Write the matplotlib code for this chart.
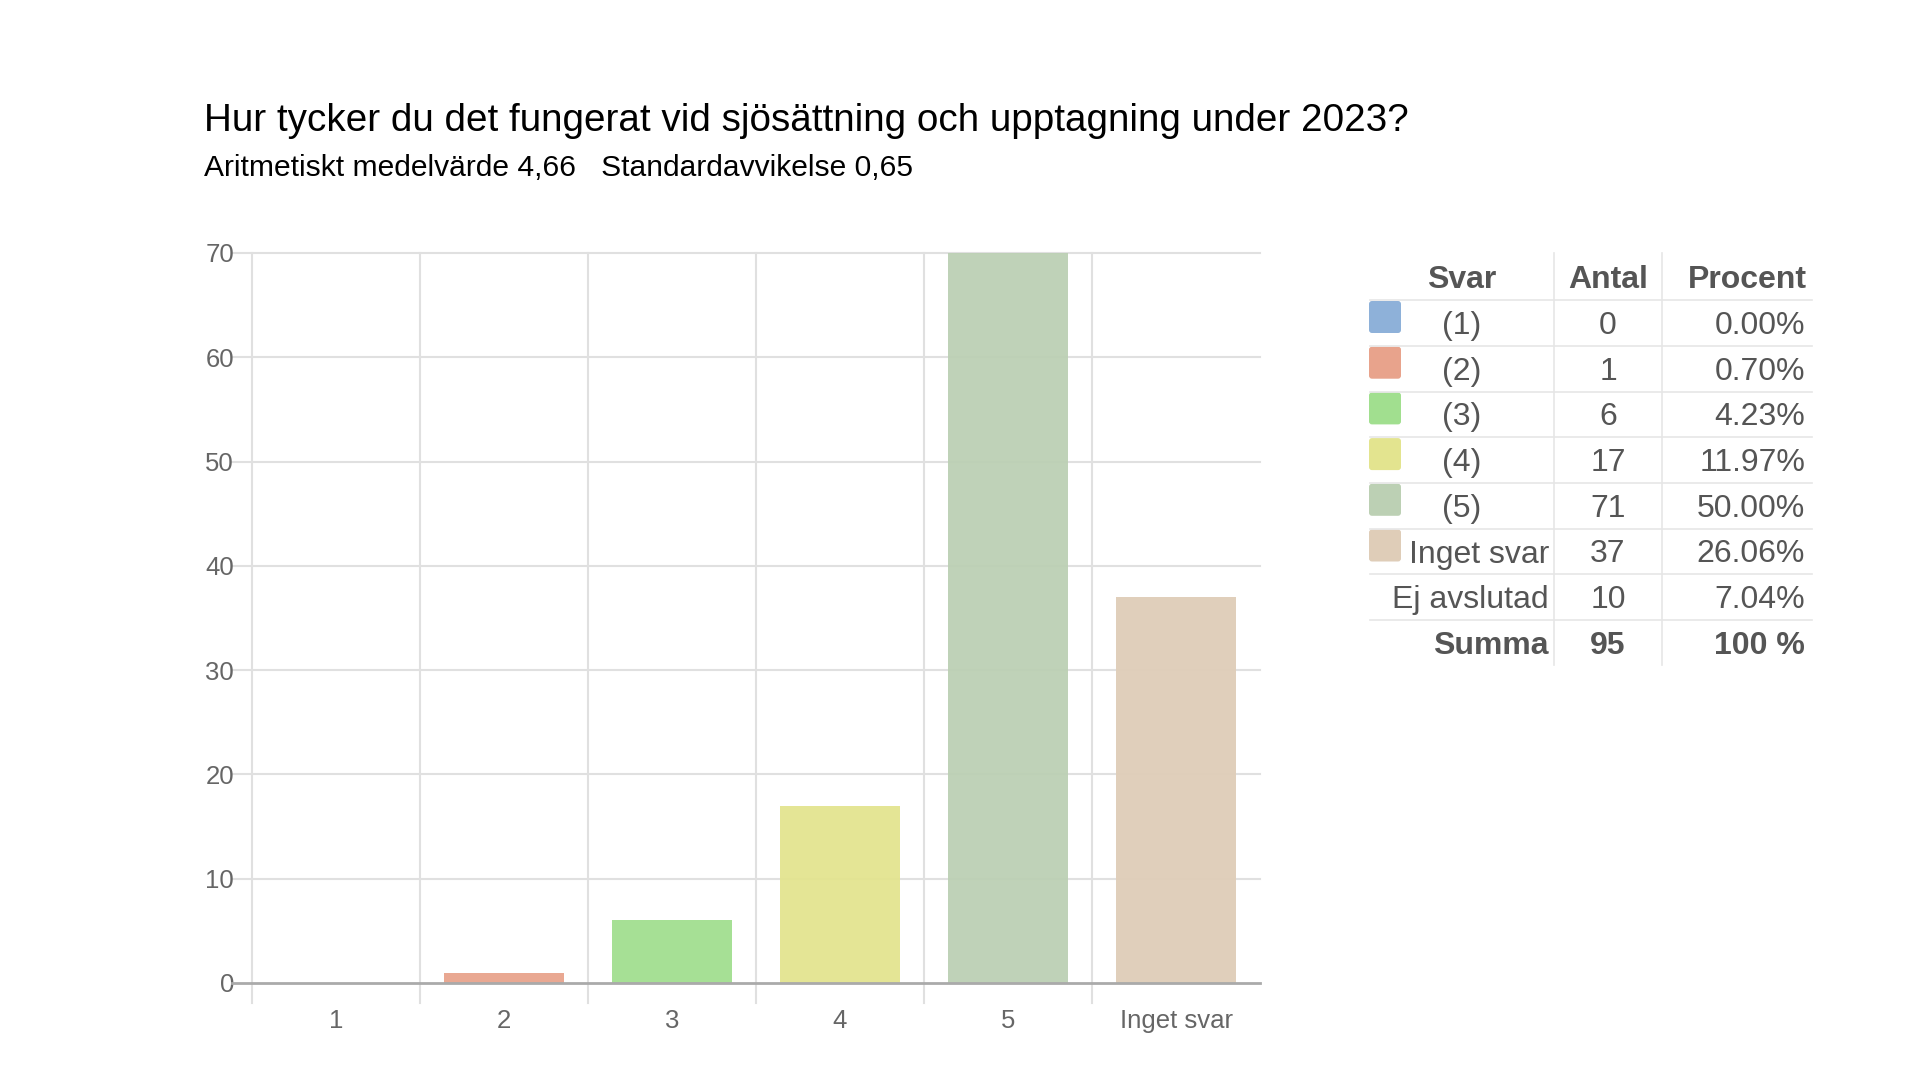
import matplotlib.pyplot as plt
from matplotlib.patches import FancyBboxPatch
from matplotlib.lines import Line2D

plt.rcParams["font.family"] = ["Liberation Sans", "DejaVu Sans"]

# chart data
categories = ["1", "2", "3", "4", "5", "Inget svar"]
counts = [0, 1, 6, 17, 71, 37]
bar_colors = ["#8eb1d9", "#e8a38c", "#a1df8f", "#e3e48f", "#bcd0b4", "#dfcdb8"]

# summary table data
svar = ["(1)", "(2)", "(3)", "(4)", "(5)", "Inget svar", "Ej avslutad"]
antal = [0, 1, 6, 17, 71, 37, 10]
procent = ["0.00%", "0.70%", "4.23%", "11.97%", "50.00%", "26.06%", "7.04%"]
summa_antal = 95
summa_procent = "100 %"

title = "Hur tycker du det fungerat vid sjösättning och upptagning under 2023?"
subtitle = "Aritmetiskt medelvärde 4,66   Standardavvikelse 0,65"

W, H = 1920, 1080
fig = plt.figure(figsize=(W / 100, H / 100), dpi=100)

# bar chart
ax = fig.add_axes([252 / W, 1 - 983 / H, 1008 / W, 730 / H])
x = list(range(len(categories)))
ax.bar(x, counts, width=0.72, color=bar_colors, alpha=0.95, zorder=2)
ax.set_xlim(-0.5, 5.5)
ax.set_ylim(0, 70)
ax.set_yticks(range(0, 71, 10))
ax.set_xticks(x)
ax.set_xticklabels(categories)
for s in ax.spines.values():
    s.set_visible(False)
ax.tick_params(axis="both", length=0, labelsize=18.5, labelcolor="#666666")
ax.tick_params(axis="y", pad=13)
ax.tick_params(axis="x", pad=19)
grid = "#e0e0e0"
for v in range(10, 71, 10):
    ax.plot([-0.5 - 20 / 168, 5.5], [v, v], color=grid, lw=1.5, zorder=1, clip_on=False)
for b in [i - 0.5 for i in x]:
    ax.plot([b, b], [-20 / 10.43, 70], color=grid, lw=1.5, zorder=1, clip_on=False)
ax.plot([-0.5 - 20 / 168, 5.5], [0, 0], color="#aaaaaa", lw=2, zorder=3, clip_on=False)

# titles
fig.text(204 / W, 1 - 121 / H, title, fontsize=27.8, color="black", va="center", ha="left")
fig.text(204 / W, 1 - 168 / H, subtitle, fontsize=21.6, color="black", va="center", ha="left")

# summary table drawn in pixel coordinates
tx = fig.add_axes([0, 0, 1, 1], zorder=5)
tx.set_xlim(0, W)
tx.set_ylim(H, 0)
tx.axis("off")
tc = "#555555"
lc = "#e6e6e6"
fs = 23
dy = 3  # text baseline nudge

tx.text(1462, 277 + dy, "Svar", ha="center", va="center", fontsize=fs, fontweight="bold", color=tc)
tx.text(1608, 277 + dy, "Antal", ha="center", va="center", fontsize=fs, fontweight="bold", color=tc)
tx.text(1807, 277 + dy, "Procent", ha="right", va="center", fontsize=fs, fontweight="bold", color=tc)

row_h = 45.7
y0 = 323
for i, (lab, n, p) in enumerate(zip(svar, antal, procent)):
    y = y0 + i * row_h
    tx.add_line(Line2D([1370, 1812], [y - row_h / 2, y - row_h / 2], color=lc, lw=1.2))
    if i < len(bar_colors):
        tx.add_patch(FancyBboxPatch((1372, y - 19), 26, 26, boxstyle="round,pad=3",
                                    fc=bar_colors[i], ec="none"))
    if lab.startswith("("):
        tx.text(1462, y + dy, lab, ha="center", va="center", fontsize=fs, color=tc)
    else:
        tx.text(1549, y + dy, lab, ha="right", va="center", fontsize=fs, color=tc)
    tx.text(1608, y + dy, str(n), ha="center", va="center", fontsize=fs, color=tc)
    tx.text(1805, y + dy, p, ha="right", va="center", fontsize=fs, color=tc)

y = y0 + len(svar) * row_h
tx.add_line(Line2D([1370, 1812], [y - row_h / 2, y - row_h / 2], color=lc, lw=1.2))
tx.text(1549, y + dy, "Summa", ha="right", va="center", fontsize=fs, fontweight="bold", color=tc)
tx.text(1608, y + dy, str(summa_antal), ha="center", va="center", fontsize=fs, fontweight="bold", color=tc)
tx.text(1805, y + dy, summa_procent, ha="right", va="center", fontsize=fs, fontweight="bold", color=tc)
for xv in [1554, 1662]:
    tx.add_line(Line2D([xv, xv], [253, 665], color=lc, lw=1.2))

fig.savefig("out.png", dpi=100, facecolor="white")
